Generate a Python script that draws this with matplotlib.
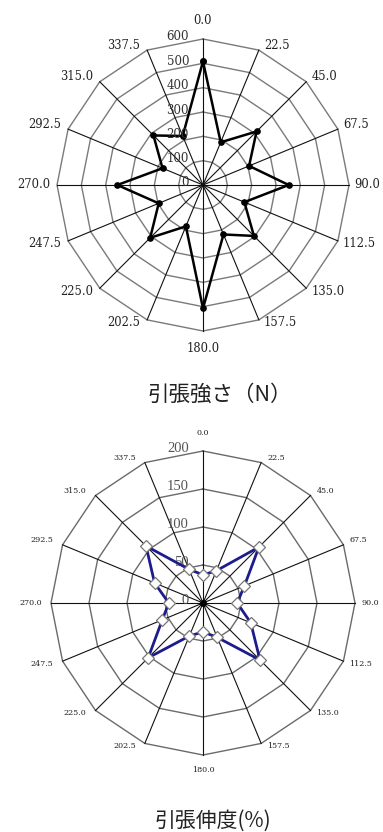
import numpy as np
import matplotlib
matplotlib.use("Agg")
import matplotlib.pyplot as plt

# ---- data ----
angles_deg = [0.0, 22.5, 45.0, 67.5, 90.0, 112.5, 135.0, 157.5,
              180.0, 202.5, 225.0, 247.5, 270.0, 292.5, 315.0, 337.5]
angle_labels = [f"{a:.1f}" for a in angles_deg]

strength = [508, 190, 311, 205, 352, 184, 296, 220,
            507, 184, 307, 197, 352, 180, 288, 218]
strength_ticks = [0, 100, 200, 300, 400, 500, 600]

elongation = [37, 46, 104, 59, 45, 68, 106, 49,
              38, 47, 102, 58, 45, 69, 106, 48]
elong_ticks = [0, 50, 100, 150, 200]

title_top = "引張強さ（N）"
title_bot = "引張伸度(%)"

W, H = 383, 832
fig = plt.figure(figsize=(W / 100, H / 100), dpi=100)
fig.patch.set_facecolor("white")

theta = np.deg2rad(angles_deg)
theta_c = np.append(theta, theta[0])


def make_polar(cx, cy, R):
    ax = fig.add_axes([(cx - R) / W, (H - cy - R) / H, 2 * R / W, 2 * R / H],
                      projection="polar")
    ax.set_theta_zero_location("N")
    ax.set_theta_direction(-1)
    ax.grid(False)
    ax.spines["polar"].set_visible(False)
    ax.set_xticks([])
    ax.set_yticks([])
    ax.patch.set_alpha(0)
    return ax


def draw_grid(ax, ticks, ring_color, spoke_color, lw_ring, lw_spoke):
    rmax = ticks[-1]
    for t in ticks[1:]:
        ax.plot(theta_c, [t] * len(theta_c), color=ring_color, lw=lw_ring,
                zorder=1, clip_on=False)
    for th in theta:
        ax.plot([th, th], [0, rmax], color=spoke_color, lw=lw_spoke,
                zorder=1, clip_on=False)
    ax.set_ylim(0, rmax)


def angle_texts(ax, rmax, fontsize, top_off, bot_off, right_off, left_off):
    for a, th, lab in zip(angles_deg, theta, angle_labels):
        if a == 0:
            off, ha, va = (0, top_off), "center", "center"
        elif a == 180:
            off, ha, va = (0, -bot_off), "center", "center"
        else:
            if a < 90 or a > 270:
                dy = 5
            elif a == 90 or a == 270:
                dy = 0
            else:
                dy = -3
            if a < 180:
                off, ha = (right_off, dy), "left"
            else:
                off, ha = (-left_off, dy), "right"
            va = "center"
        ax.annotate(lab, xy=(th, rmax), xytext=off, textcoords="offset pixels",
                    ha=ha, va=va, fontsize=fontsize, family="DejaVu Serif",
                    color="#222222", annotation_clip=False)


# ---- top chart ----
ax1 = make_polar(203, 185, 146)
draw_grid(ax1, strength_ticks, "#7a7a7a", "#111111", 1.0, 0.8)
s = strength + strength[:1]
ax1.plot(theta_c, s, color="black", lw=1.8, marker="o", ms=3.8,
         zorder=3, clip_on=False)
for t in strength_ticks:
    ax1.annotate(str(t), xy=(0, t), xytext=(-14, 2), textcoords="offset pixels",
                 ha="right", va="center", fontsize=8.5, family="DejaVu Serif",
                 color="#333333", zorder=4)
angle_texts(ax1, 600, 8.3, 19, 17, 5, 7)

fig.text(220 / W, 1 - 395 / H, title_top, ha="center", va="center",
         fontsize=15.5, family=["Noto Sans CJK JP", "DejaVu Sans"], color="#222222")

# ---- bottom chart ----
ax2 = make_polar(203, 603, 152)
draw_grid(ax2, elong_ticks, "#6a6a6a", "#111111", 1.0, 0.8)
e = elongation + elongation[:1]
ax2.plot(theta_c, e, color="#1c1c8c", lw=2.0, zorder=3, clip_on=False)
ax2.plot(theta, elongation, ls="none", marker="D", ms=6, mfc="white",
         mec="#777777", mew=0.9, zorder=4, clip_on=False)
ax2.plot([0], [0], marker="o", ms=4, color="black", zorder=5)
for t in elong_ticks:
    ax2.annotate(str(t), xy=(0, t), xytext=(-14, 2), textcoords="offset pixels",
                 ha="right", va="center", fontsize=10.5,
                 family="Liberation Serif", color="#555555", zorder=2)
angle_texts(ax2, 200, 5.8, 18, 15, 6, 9)

fig.text(213 / W, 1 - 821 / H, title_bot, ha="center", va="center",
         fontsize=15, family=["Noto Sans CJK JP", "DejaVu Sans"], color="#222222")

fig.savefig("out.png", dpi=100, facecolor="white")
